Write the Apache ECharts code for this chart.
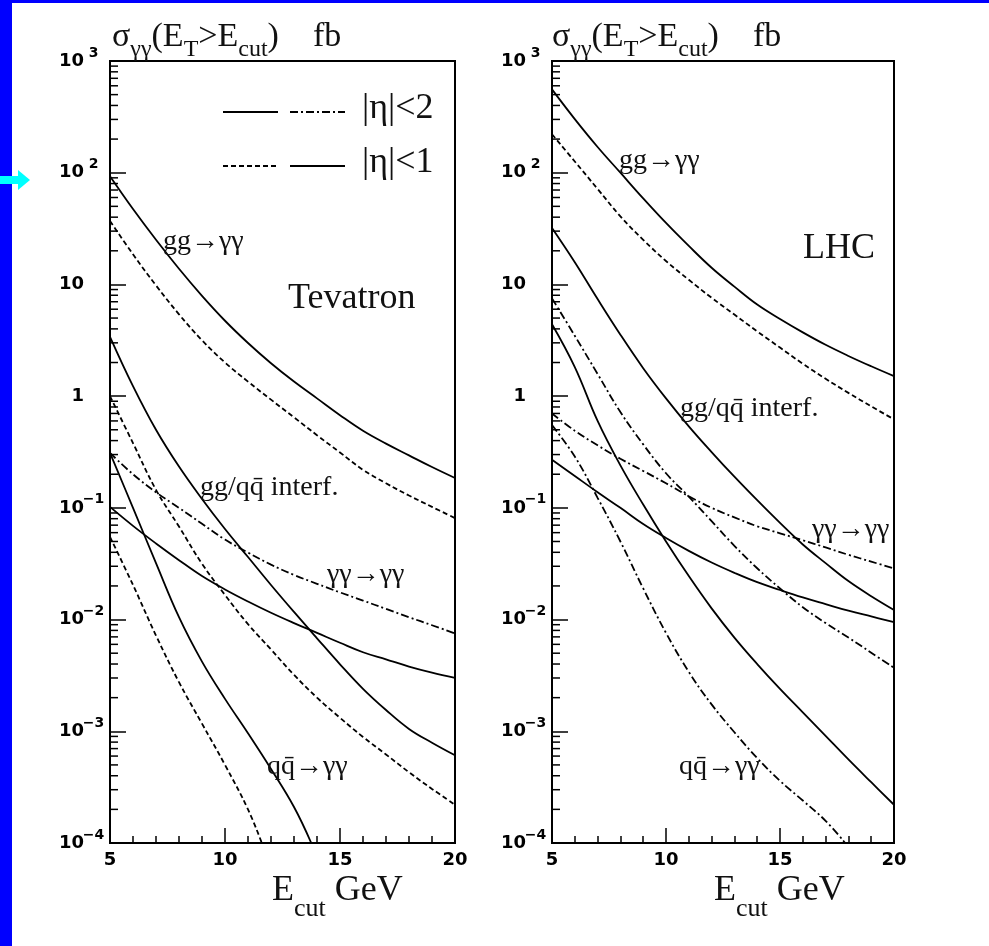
<!DOCTYPE html>
<html>
<head>
<meta charset="utf-8">
<script src="https://cdn.jsdelivr.net/npm/echarts@6/dist/echarts.min.js"></script>
<style>
  html, body { margin: 0; padding: 0; background: #fff; }
  #chart { width: 989px; height: 946px; }
</style>
</head>
<body>
<div id="chart"></div>
<script>
// sigma(E_T > E_cut) in fb vs E_cut in GeV
// Tevatron
const tevGgEta2  = [[5,93],[6,47.3],[7,25.1],[8,13.8],[9,7.9],[10,4.73],[11,2.99],[12,1.97],[13,1.35],[14,0.955],[15,0.676],[16,0.49],[17,0.376],[18,0.295],[19,0.232],[20,0.185]];
const tevGgEta1  = [[5,37],[6,18.6],[7,9.8],[8,5.4],[9,3.16],[10,2.0],[11,1.35],[12,0.93],[13,0.646],[14,0.447],[15,0.313],[16,0.219],[17,0.166],[18,0.129],[19,0.102],[20,0.081]];
const tevIntSol  = [[5,3.4],[6,1.23],[7,0.50],[8,0.234],[9,0.12],[10,0.0646],[11,0.0363],[12,0.0204],[13,0.0117],[14,6.8e-3],[15,3.98e-3],[16,2.4e-3],[17,1.55e-3],[18,1.05e-3],[19,7.9e-4],[20,6.1e-4]];
const tevIntDash = [[5,1.0],[6,0.38],[7,0.145],[8,0.068],[9,0.0316],[10,0.0166],[11,9.1e-3],[12,5.4e-3],[13,3.2e-3],[14,2.0e-3],[15,1.32e-3],[16,8.9e-4],[17,6.2e-4],[18,4.3e-4],[19,3.05e-4],[20,2.2e-4]];
const tevAaDash  = [[5,0.31],[6,0.20],[7,0.138],[8,0.10],[9,0.072],[10,0.052],[11,0.0398],[12,0.031],[13,0.0251],[14,0.0209],[15,0.0175],[16,0.0148],[17,0.01245],[18,0.0105],[19,8.9e-3],[20,7.5e-3]];
const tevAaSol   = [[5,0.102],[6,0.069],[7,0.048],[8,0.034],[9,0.0245],[10,0.0186],[11,0.0145],[12,0.0115],[13,9.3e-3],[14,7.6e-3],[15,6.2e-3],[16,5.1e-3],[17,4.4e-3],[18,3.8e-3],[19,3.35e-3],[20,3.0e-3]];
const tevQqSol   = [[5,0.31],[6,0.10],[7,0.032],[8,0.0105],[9,4.2e-3],[10,1.95e-3],[11,9.6e-4],[12,4.6e-4],[13,2.1e-4],[13.75,1e-4]];
const tevQqDash  = [[5,0.055],[6,0.0204],[7,7.2e-3],[8,2.75e-3],[9,1.17e-3],[10,5.0e-4],[11,2.0e-4],[11.6,1e-4]];
// LHC
const lhcGgEta2  = [[5,557],[6,302],[7,170],[8,100],[9,58.9],[10,35.5],[11,22.1],[12,14.1],[13,9.55],[14,6.6],[15,4.9],[16,3.72],[17,2.88],[18,2.29],[19,1.85],[20,1.51]];
const lhcGgEta1  = [[5,221],[6,126],[7,71.6],[8,40.7],[9,25.1],[10,16.2],[11,11.0],[12,7.6],[13,5.37],[14,3.8],[15,2.72],[16,1.95],[17,1.43],[18,1.07],[19,0.81],[20,0.62]];
const lhcIntSol  = [[5,32],[6,15.8],[7,7.4],[8,3.55],[9,1.78],[10,0.955],[11,0.537],[12,0.316],[13,0.19],[14,0.117],[15,0.0733],[16,0.047],[17,0.032],[18,0.0221],[19,0.0162],[20,0.0122]];
const lhcIntDash = [[5,7.5],[6,3.47],[7,1.58],[8,0.72],[9,0.37],[10,0.204],[11,0.126],[12,0.076],[13,0.0457],[14,0.0288],[15,0.019],[16,0.0129],[17,9.3e-3],[18,6.9e-3],[19,5.05e-3],[20,3.7e-3]];
const lhcAaDash  = [[5,0.70],[6,0.49],[7,0.363],[8,0.275],[9,0.214],[10,0.166],[11,0.127],[12,0.10],[13,0.0822],[14,0.0684],[15,0.0592],[16,0.0513],[17,0.0442],[18,0.038],[19,0.033],[20,0.0287]];
const lhcAaSol   = [[5,0.27],[6,0.193],[7,0.138],[8,0.10],[9,0.0716],[10,0.0537],[11,0.0412],[12,0.0324],[13,0.0262],[14,0.0216],[15,0.0184],[16,0.0158],[17,0.01375],[18,0.012],[19,0.01067],[20,9.5e-3]];
const lhcQqSol   = [[5,4.4],[6,1.82],[7,0.60],[8,0.24],[9,0.107],[10,0.050],[11,0.0245],[12,0.0126],[13,6.9e-3],[14,4.0e-3],[15,2.4e-3],[16,1.48e-3],[17,9.1e-4],[18,5.6e-4],[19,3.5e-4],[20,2.2e-4]];
const lhcQqDash  = [[5,0.55],[6,0.288],[7,0.123],[8,0.050],[9,0.019],[10,7.6e-3],[11,3.4e-3],[12,1.74e-3],[13,9.8e-4],[14,5.75e-4],[15,3.6e-4],[16,2.4e-4],[17,1.58e-4],[17.86,1e-4]];

// minor ticks of the log axis: 2..9 in every decade
const decades = [1e-4, 1e-3, 1e-2, 1e-1, 1, 10, 100];
const minorMult = [2, 3, 4, 5, 6, 7, 8, 9];

const DASHED = [5, 3];
const DASHDOT = [8, 3, 2, 3];
const SERIF = 'Liberation Serif';
const TICKFONT = 'DejaVu Sans';

const chart = echarts.init(document.getElementById('chart'), null, { renderer: 'canvas' });

function curve(name, data, dash, g) {
  return {
    name: name, type: 'line', xAxisIndex: g, yAxisIndex: g, data: data,
    showSymbol: false, smooth: 0.4, silent: true,
    lineStyle: { color: '#000', width: 1.8, type: dash }
  };
}

function minorTicks(g) {
  const pts = [];
  decades.forEach(d => minorMult.forEach(m => pts.push([5, m * d])));
  return {
    type: 'custom', xAxisIndex: g, yAxisIndex: g, silent: true, clip: false,
    data: pts,
    renderItem: function (params, api) {
      const p = api.coord([api.value(0), api.value(1)]);
      return {
        type: 'line',
        shape: { x1: p[0], y1: p[1], x2: p[0] + 8, y2: p[1] },
        style: { stroke: '#000', lineWidth: 1.5 }
      };
    }
  };
}

function yLabel(v) {
  const e = Math.round(Math.log10(v));
  if (e === 0) return '{b|1}{s| }';
  if (e === 1) return '{b|10}{s| }';
  return '{b|10}{s|' + (e < 0 ? '\u2212' + (-e) : e) + '}';
}

function xAxis(g) {
  return {
    gridIndex: g, type: 'value', min: 5, max: 20, interval: 5,
    axisLine: { show: true, onZero: false, lineStyle: { color: '#000', width: 2 } },
    axisTick: { show: true, inside: true, length: 15, lineStyle: { color: '#000', width: 1.5 } },
    minorTick: { show: true, splitNumber: 5, length: 7, lineStyle: { color: '#000', width: 1.5 } },
    splitLine: { show: false },
    axisLabel: { color: '#000', fontFamily: TICKFONT, fontWeight: 'bold', fontSize: 18, margin: 8 }
  };
}

function yAxis(g) {
  return {
    gridIndex: g, type: 'log', logBase: 10, min: 1e-4, max: 1e3,
    axisLine: { show: true, lineStyle: { color: '#000', width: 2 } },
    axisTick: { show: true, inside: true, length: 16, lineStyle: { color: '#000', width: 1.5 } },
    minorTick: { show: false },
    splitLine: { show: false },
    axisLabel: {
      formatter: yLabel, margin: 7, color: '#000',
      rich: {
        b: { fontFamily: TICKFONT, fontWeight: 'bold', fontSize: 18, lineHeight: 30, color: '#000' },
        s: { fontFamily: TICKFONT, fontWeight: 'bold', fontSize: 14, lineHeight: 13, verticalAlign: 'top', width: 19, align: 'left', color: '#000' }
      }
    }
  };
}

function label(text, x, y, size) {
  return {
    type: 'text', x: x, y: y, z: 100,
    style: { text: text, fontFamily: SERIF, fontSize: size, fill: '#111', align: 'left', verticalAlign: 'middle' }
  };
}

function richTitle(x, y) {
  return {
    type: 'text', x: x, y: y, z: 100,
    style: {
      text: '{b|\u03c3}{s|\u03b3\u03b3}{b|(E}{s|T}{b|>E}{s|cut}{b|)    fb}',
      align: 'left', verticalAlign: 'top',
      rich: {
        b: { fontFamily: SERIF, fontSize: 34, lineHeight: 49, fill: '#111' },
        s: { fontFamily: SERIF, fontSize: 24, lineHeight: 24, verticalAlign: 'bottom', fill: '#111' }
      }
    }
  };
}

function richXName(x, y) {
  return {
    type: 'text', x: x, y: y, z: 100,
    style: {
      text: '{b|E}{s|cut}{b| GeV}',
      align: 'left', verticalAlign: 'top',
      rich: {
        b: { fontFamily: SERIF, fontSize: 36, lineHeight: 62, fill: '#111' },
        s: { fontFamily: SERIF, fontSize: 26, lineHeight: 26, verticalAlign: 'bottom', fill: '#111' }
      }
    }
  };
}

function legendLine(x1, x2, y, dash) {
  return {
    type: 'line', z: 100,
    shape: { x1: x1, y1: y, x2: x2, y2: y },
    style: { stroke: '#000', lineWidth: 1.8, lineDash: dash }
  };
}

const option = {
  animation: false,
  backgroundColor: '#fff',
  grid: [
    { left: 110, top: 61, width: 345, height: 782, show: true, borderColor: '#000', borderWidth: 2, backgroundColor: 'transparent' },
    { left: 552, top: 61, width: 342, height: 782, show: true, borderColor: '#000', borderWidth: 2, backgroundColor: 'transparent' }
  ],
  xAxis: [xAxis(0), xAxis(1)],
  yAxis: [yAxis(0), yAxis(1)],
  series: [
    curve('gg |eta|<2', tevGgEta2, 'solid', 0),
    curve('gg |eta|<1', tevGgEta1, DASHED, 0),
    curve('interf solid', tevIntSol, 'solid', 0),
    curve('interf dash', tevIntDash, DASHED, 0),
    curve('aa dash', tevAaDash, DASHDOT, 0),
    curve('aa solid', tevAaSol, 'solid', 0),
    curve('qq solid', tevQqSol, 'solid', 0),
    curve('qq dash', tevQqDash, DASHED, 0),
    curve('gg |eta|<2', lhcGgEta2, 'solid', 1),
    curve('gg |eta|<1', lhcGgEta1, DASHED, 1),
    curve('interf solid', lhcIntSol, 'solid', 1),
    curve('interf dash', lhcIntDash, DASHDOT, 1),
    curve('aa dash', lhcAaDash, DASHDOT, 1),
    curve('aa solid', lhcAaSol, 'solid', 1),
    curve('qq solid', lhcQqSol, 'solid', 1),
    curve('qq dash', lhcQqDash, DASHDOT, 1),
    minorTicks(0),
    minorTicks(1)
  ],
  graphic: [
    // slide frame
    { type: 'rect', z: 90, shape: { x: 0, y: 0, width: 989, height: 3 }, style: { fill: '#0000ff' } },
    { type: 'rect', z: 90, shape: { x: 0, y: 0, width: 12, height: 946 }, style: { fill: '#0000ff' } },
    { type: 'rect', z: 91, shape: { x: 0, y: 176, width: 19, height: 8 }, style: { fill: '#00ffff' } },
    { type: 'polygon', z: 91, shape: { points: [[18, 170], [30, 180], [18, 190]] }, style: { fill: '#00ffff' } },
    // titles
    richTitle(112, 13),
    richTitle(552, 13),
    richXName(272, 860),
    richXName(714, 860),
    // legend
    legendLine(223, 278, 112, null),
    legendLine(290, 345, 112, DASHDOT),
    legendLine(223, 278, 166, DASHED),
    legendLine(290, 345, 166, null),
    label('|\u03b7|<2', 362, 109, 36),
    label('|\u03b7|<1', 362, 163, 36),
    // panel names
    label('Tevatron', 288, 299, 36),
    label('LHC', 803, 249, 36),
    // process names
    label('gg\u2192\u03b3\u03b3', 163, 242, 28),
    label('gg/qq\u0304 interf.', 200, 488, 28),
    label('\u03b3\u03b3\u2192\u03b3\u03b3', 327, 575, 28),
    label('qq\u0304\u2192\u03b3\u03b3', 267, 767, 28),
    label('gg\u2192\u03b3\u03b3', 619, 161, 28),
    label('gg/qq\u0304 interf.', 680, 409, 28),
    label('\u03b3\u03b3\u2192\u03b3\u03b3', 812, 530, 28),
    label('qq\u0304\u2192\u03b3\u03b3', 679, 767, 28)
  ]
};

chart.setOption(option);
</script>
</body>
</html>
